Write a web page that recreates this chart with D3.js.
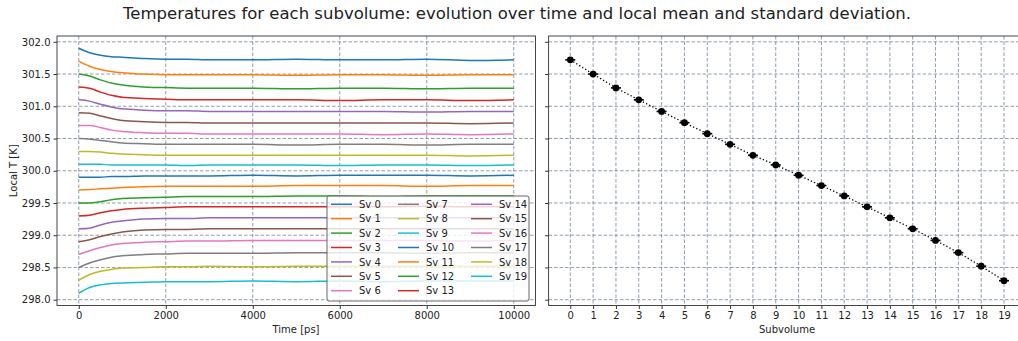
<!DOCTYPE html>
<html>
<head>
<meta charset="utf-8">
<script src="https://cdn.jsdelivr.net/npm/d3@7"></script>
<style>
  body { margin: 0; background: #fff; }
  text { font-family: "DejaVu Sans", sans-serif; fill: #222; }
</style>
</head>
<body>
<div id="chart"></div>
<script>
// sampling times [ps]
var times = [0, 250, 500, 750, 1000, 1500, 2000, 2500, 3000, 4000, 5000, 6000, 7000, 8000, 9000, 10000];

// temperature traces, one array per subvolume
var sv0  = [301.90, 301.83, 301.79, 301.77, 301.76, 301.74, 301.73, 301.73, 301.72, 301.72, 301.73, 301.72, 301.72, 301.73, 301.71, 301.72];
var sv1  = [301.70, 301.62, 301.57, 301.54, 301.52, 301.50, 301.49, 301.49, 301.49, 301.49, 301.48, 301.49, 301.49, 301.48, 301.49, 301.49];
var sv2  = [301.50, 301.47, 301.41, 301.36, 301.33, 301.30, 301.29, 301.28, 301.28, 301.28, 301.27, 301.28, 301.28, 301.27, 301.28, 301.28];
var sv3  = [301.30, 301.28, 301.22, 301.17, 301.14, 301.12, 301.11, 301.10, 301.10, 301.10, 301.10, 301.09, 301.10, 301.10, 301.09, 301.10];
var sv4  = [301.10, 301.08, 301.03, 300.99, 300.96, 300.94, 300.93, 300.93, 300.92, 300.92, 300.92, 300.92, 300.92, 300.91, 300.92, 300.92];
var sv5  = [300.90, 300.89, 300.85, 300.81, 300.78, 300.76, 300.75, 300.75, 300.74, 300.74, 300.74, 300.74, 300.74, 300.74, 300.73, 300.74];
var sv6  = [300.70, 300.70, 300.67, 300.63, 300.61, 300.59, 300.58, 300.58, 300.57, 300.57, 300.57, 300.57, 300.56, 300.57, 300.56, 300.57];
var sv7  = [300.50, 300.49, 300.47, 300.45, 300.43, 300.42, 300.41, 300.41, 300.41, 300.41, 300.40, 300.41, 300.41, 300.40, 300.41, 300.41];
var sv8  = [300.30, 300.30, 300.29, 300.27, 300.26, 300.25, 300.24, 300.24, 300.24, 300.24, 300.24, 300.24, 300.24, 300.24, 300.23, 300.24];
var sv9  = [300.10, 300.10, 300.10, 300.09, 300.09, 300.09, 300.09, 300.08, 300.09, 300.09, 300.09, 300.08, 300.09, 300.09, 300.08, 300.09];
var sv10 = [299.90, 299.90, 299.90, 299.91, 299.91, 299.92, 299.92, 299.92, 299.92, 299.93, 299.92, 299.93, 299.93, 299.93, 299.92, 299.93];
var sv11 = [299.70, 299.71, 299.72, 299.73, 299.74, 299.75, 299.76, 299.76, 299.76, 299.76, 299.77, 299.77, 299.77, 299.76, 299.77, 299.77];
var sv12 = [299.50, 299.50, 299.52, 299.55, 299.57, 299.58, 299.59, 299.60, 299.60, 299.60, 299.61, 299.61, 299.60, 299.61, 299.61, 299.61];
var sv13 = [299.30, 299.31, 299.35, 299.38, 299.40, 299.42, 299.43, 299.44, 299.44, 299.44, 299.44, 299.44, 299.44, 299.45, 299.44, 299.44];
var sv14 = [299.10, 299.11, 299.16, 299.20, 299.22, 299.25, 299.26, 299.26, 299.27, 299.27, 299.27, 299.27, 299.27, 299.27, 299.27, 299.27];
var sv15 = [298.90, 298.93, 298.98, 299.02, 299.05, 299.08, 299.09, 299.09, 299.10, 299.10, 299.10, 299.10, 299.10, 299.10, 299.10, 299.10];
var sv16 = [298.70, 298.76, 298.81, 298.85, 298.87, 298.89, 298.90, 298.91, 298.91, 298.92, 298.92, 298.92, 298.92, 298.92, 298.91, 298.92];
var sv17 = [298.50, 298.57, 298.62, 298.66, 298.68, 298.70, 298.71, 298.72, 298.72, 298.72, 298.73, 298.73, 298.73, 298.72, 298.73, 298.73];
var sv18 = [298.30, 298.39, 298.44, 298.47, 298.49, 298.50, 298.51, 298.51, 298.52, 298.51, 298.52, 298.52, 298.52, 298.52, 298.52, 298.52];
var sv19 = [298.10, 298.19, 298.23, 298.25, 298.26, 298.27, 298.28, 298.28, 298.28, 298.29, 298.28, 298.29, 298.28, 298.29, 298.29, 298.29];
var traces = [sv0, sv1, sv2, sv3, sv4, sv5, sv6, sv7, sv8, sv9, sv10, sv11, sv12, sv13, sv14, sv15, sv16, sv17, sv18, sv19];

// local mean and standard deviation per subvolume
var subvolumes = d3.range(20);
var means = [301.72, 301.50, 301.285, 301.10, 300.92, 300.745, 300.575, 300.41, 300.24, 300.09,
             299.93, 299.77, 299.61, 299.44, 299.27, 299.10, 298.92, 298.73, 298.52, 298.295];
var stds = [0.01, 0.01, 0.01, 0.01, 0.01, 0.01, 0.01, 0.01, 0.01, 0.01,
            0.01, 0.01, 0.01, 0.01, 0.01, 0.01, 0.01, 0.01, 0.01, 0.01];

var yTicks = [298.0, 298.5, 299.0, 299.5, 300.0, 300.5, 301.0, 301.5, 302.0];
var xTicks = [0, 2000, 4000, 6000, 8000, 10000];

var width = 1018, height = 341;
var top_ = 36, bottom_ = 305.5;
var gridColor = "#6f8095";
var color = d3.scaleOrdinal(d3.schemeCategory10);

var svg = d3.select("#chart").append("svg")
    .attr("width", width)
    .attr("height", height);

svg.append("text")
    .attr("x", 517).attr("y", 19)
    .attr("text-anchor", "middle")
    .style("font-size", "16.5px")
    .text("Temperatures for each subvolume: evolution over time and local mean and standard deviation.");

var y = d3.scaleLinear().domain([297.91, 302.09]).range([bottom_, top_]);

// ---------- left panel ----------
var x = d3.scaleLinear().domain([-500, 10500]).range([57, 535.5]);
var left = svg.append("g");

function grid(g, xs, xTickVals) {
    g.selectAll(".gx").data(xTickVals).enter().append("line")
        .attr("x1", xs).attr("x2", xs)
        .attr("y1", top_).attr("y2", bottom_)
        .attr("stroke", gridColor).attr("stroke-width", 0.9)
        .attr("stroke-dasharray", "3.5,2").attr("opacity", 0.85);
    g.selectAll(".gy").data(yTicks).enter().append("line")
        .attr("x1", xs.range()[0]).attr("x2", xs.range()[1])
        .attr("y1", y).attr("y2", y)
        .attr("stroke", gridColor).attr("stroke-width", 0.9)
        .attr("stroke-dasharray", "3.5,2").attr("opacity", 0.85);
}
grid(left, x, xTicks);

var line = d3.line()
    .x(function(d, i) { return x(times[i]); })
    .y(function(d) { return y(d); })
    .curve(d3.curveMonotoneX);

left.selectAll(".trace").data(traces).enter().append("path")
    .attr("d", line)
    .attr("fill", "none")
    .attr("stroke", function(d, i) { return color(i % 10); })
    .attr("stroke-width", 1.5);

left.append("g")
    .attr("transform", "translate(0," + bottom_ + ")")
    .call(d3.axisBottom(x).tickValues(xTicks).tickSize(3.5).tickFormat(d3.format("d")));
left.append("g")
    .attr("transform", "translate(57,0)")
    .call(d3.axisLeft(y).tickValues(yTicks).tickSize(3.5).tickFormat(d3.format(".1f")));
left.append("rect")
    .attr("x", 57).attr("y", top_)
    .attr("width", 535.5 - 57).attr("height", bottom_ - top_)
    .attr("fill", "none").attr("stroke", "#333").attr("stroke-width", 0.9);

left.append("text")
    .attr("x", 296).attr("y", 333)
    .attr("text-anchor", "middle")
    .style("font-size", "10px")
    .text("Time [ps]");
left.append("text")
    .attr("transform", "translate(17," + ((top_ + bottom_) / 2) + ")rotate(-90)")
    .attr("text-anchor", "middle")
    .style("font-size", "10px")
    .text("Local T [K]");

// legend
var legend = left.append("g");
legend.append("rect")
    .attr("x", 327).attr("y", 196)
    .attr("width", 202).attr("height", 105)
    .attr("rx", 2)
    .attr("fill", "#fff").attr("fill-opacity", 0.8)
    .attr("stroke", "#555").attr("stroke-width", 0.9);
var colX = [331, 398, 471];
subvolumes.forEach(function(i) {
    var col = Math.floor(i / 7), row = i % 7;
    var ly = 204.3 + row * 14.4;
    legend.append("line")
        .attr("x1", colX[col]).attr("x2", colX[col] + 21)
        .attr("y1", ly).attr("y2", ly)
        .attr("stroke", color(i % 10)).attr("stroke-width", 1.5);
    legend.append("text")
        .attr("x", colX[col] + 28).attr("y", ly + 3.6)
        .style("font-size", "10px")
        .text("Sv " + i);
});

// ---------- right panel ----------
var xs = d3.scaleLinear().domain([-0.95, 19.95]).range([548.6, 1025.7]);
var right = svg.append("g");
grid(right, xs, subvolumes);

right.append("path")
    .datum(means)
    .attr("d", d3.line()
        .x(function(d, i) { return xs(subvolumes[i]); })
        .y(function(d) { return y(d); }))
    .attr("fill", "none")
    .attr("stroke", "#000").attr("stroke-width", 1.3)
    .attr("stroke-dasharray", "1.3,2.2");

var pts = right.selectAll(".pt").data(means).enter().append("g");
pts.append("line")
    .attr("x1", function(d, i) { return xs(i); }).attr("x2", function(d, i) { return xs(i); })
    .attr("y1", function(d, i) { return y(d - stds[i]); })
    .attr("y2", function(d, i) { return y(d + stds[i]); })
    .attr("stroke", "#000").attr("stroke-width", 1.3);
pts.append("line")
    .attr("x1", function(d, i) { return xs(i) - 5; }).attr("x2", function(d, i) { return xs(i) + 5; })
    .attr("y1", function(d) { return y(d); }).attr("y2", function(d) { return y(d); })
    .attr("stroke", "#000").attr("stroke-width", 1.6);
pts.append("circle")
    .attr("cx", function(d, i) { return xs(i); })
    .attr("cy", function(d) { return y(d); })
    .attr("r", 3.4)
    .attr("fill", "#000");

right.append("g")
    .attr("transform", "translate(0," + bottom_ + ")")
    .call(d3.axisBottom(xs).tickValues(subvolumes).tickSize(3.5).tickFormat(d3.format("d")));
right.append("g")
    .attr("transform", "translate(548.6,0)")
    .call(d3.axisLeft(y).tickValues(yTicks).tickSize(3.5).tickFormat(""));
right.append("rect")
    .attr("x", 548.6).attr("y", top_)
    .attr("width", 1025.7 - 548.6).attr("height", bottom_ - top_)
    .attr("fill", "none").attr("stroke", "#333").attr("stroke-width", 0.9);
right.append("text")
    .attr("x", 787).attr("y", 333)
    .attr("text-anchor", "middle")
    .style("font-size", "10px")
    .text("Subvolume");

svg.selectAll(".domain").remove();
svg.selectAll(".tick text").style("font-size", "10px").attr("fill", "#222");
svg.selectAll(".tick line").attr("stroke", "#333");
</script>
</body>
</html>
